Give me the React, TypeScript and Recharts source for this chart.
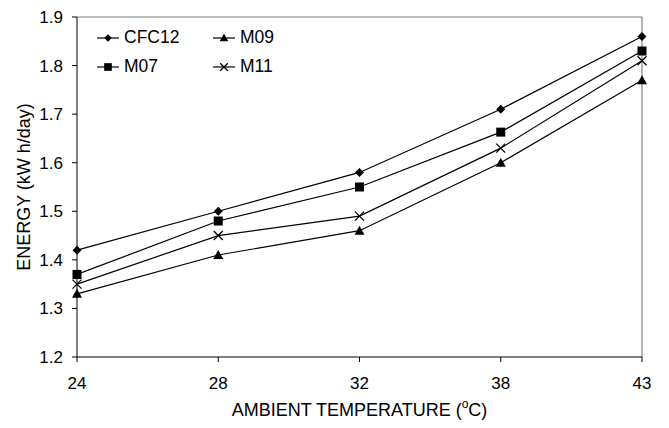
import { LineChart, Line, XAxis, YAxis, ReferenceLine } from "recharts";

// Ambient temperature (°C) categories
const temps = ["24", "28", "32", "38", "43"];

// Energy consumption (kW h/day) per refrigerant
const cfc12 = [1.42, 1.5, 1.58, 1.71, 1.86];
const m07 = [1.37, 1.48, 1.55, 1.663, 1.83];
const m09 = [1.33, 1.41, 1.46, 1.6, 1.77];
const m11 = [1.35, 1.45, 1.49, 1.63, 1.81];

const yTicks = [1.2, 1.3, 1.4, 1.5, 1.6, 1.7, 1.8, 1.9];

const data = temps.map((t, i) => ({
  temp: t,
  CFC12: cfc12[i],
  M07: m07[i],
  M09: m09[i],
  M11: m11[i],
}));

const FONT = '"Liberation Sans", Arial, sans-serif';

type Shape = "diamond" | "square" | "triangle" | "cross";

function Marker({ shape, cx, cy, s = 1 }: { shape: Shape; cx: number; cy: number; s?: number }) {
  if (cx == null || cy == null) return null;
  const r = 4.5 * s;
  switch (shape) {
    case "diamond":
      return (
        <polygon
          points={`${cx},${cy - r} ${cx + r},${cy} ${cx},${cy + r} ${cx - r},${cy}`}
          fill="#000"
        />
      );
    case "square":
      return <rect x={cx - r} y={cy - r} width={2 * r} height={2 * r} fill="#000" />;
    case "triangle":
      return (
        <polygon
          points={`${cx},${cy - r - 0.5} ${cx + r + 0.5},${cy + r - 0.5} ${cx - r - 0.5},${cy + r - 0.5}`}
          fill="#000"
        />
      );
    default:
      return (
        <path
          d={`M${cx - r},${cy - r}L${cx + r},${cy + r}M${cx + r},${cy - r}L${cx - r},${cy + r}`}
          stroke="#000"
          strokeWidth={1.3}
          fill="none"
        />
      );
  }
}

const series: { key: string; shape: Shape }[] = [
  { key: "CFC12", shape: "diamond" },
  { key: "M07", shape: "square" },
  { key: "M09", shape: "triangle" },
  { key: "M11", shape: "cross" },
];

// legend order as in the figure: two columns
const legendOrder: { key: string; shape: Shape }[] = [
  { key: "CFC12", shape: "diamond" },
  { key: "M09", shape: "triangle" },
  { key: "M07", shape: "square" },
  { key: "M11", shape: "cross" },
];

function LegendBox() {
  return (
    <div
      style={{
        position: "absolute",
        top: 27,
        left: 97,
        display: "grid",
        gridTemplateColumns: "116px 100px",
        rowGap: 8,
        fontFamily: FONT,
        fontSize: 17.5,
        color: "#000",
        lineHeight: "21px",
      }}
    >
      {legendOrder.map((s) => (
        <div key={s.key} style={{ display: "flex", alignItems: "center" }}>
          <svg width={22} height={14} style={{ marginRight: 5 }}>
            <line x1={0} y1={7} x2={22} y2={7} stroke="#000" strokeWidth={1.2} />
            <Marker shape={s.shape} cx={11} cy={7} s={0.85} />
          </svg>
          <span>{s.key}</span>
        </div>
      ))}
    </div>
  );
}

function XTitle(props: any) {
  const { viewBox } = props;
  if (!viewBox) return null;
  return (
    <text
      x={viewBox.x + viewBox.width / 2}
      y={viewBox.y + 59}
      textAnchor="middle"
      fontFamily={FONT}
      fontSize={18}
      fill="#000"
    >
      AMBIENT TEMPERATURE (
      <tspan dy={-8} fontSize={12}>
        o
      </tspan>
      <tspan dy={8}>C)</tspan>
    </text>
  );
}

function YTitle(props: any) {
  const { viewBox } = props;
  if (!viewBox) return null;
  const x = 30;
  const y = viewBox.y + viewBox.height / 2;
  return (
    <text
      x={x}
      y={y}
      transform={`rotate(-90 ${x} ${y})`}
      textAnchor="middle"
      fontFamily={FONT}
      fontSize={18}
      fill="#000"
    >
      ENERGY (kW h/day)
    </text>
  );
}

export default function App() {
  return (
    <div style={{ position: "absolute", top: 0, left: 0, width: 669, height: 428, background: "#fff" }}>
      <LineChart
        width={669}
        height={428}
        data={data}
        margin={{ top: 17, right: 27, bottom: 0, left: 0 }}
      >
        <XAxis
          dataKey="temp"
          height={71}
          stroke="#000"
          tickSize={5}
          tickMargin={15}
          tick={{ fill: "#000", fontSize: 17, fontFamily: FONT }}
          label={<XTitle />}
        />
        <YAxis
          width={77}
          domain={[1.2, 1.9]}
          ticks={yTicks}
          tickFormatter={(v: number) => v.toFixed(1)}
          stroke="#000"
          tickSize={5}
          tickMargin={9}
          tick={{ fill: "#000", fontSize: 17, fontFamily: FONT }}
          label={<YTitle />}
        />
        <ReferenceLine y={1.9} stroke="#808080" strokeWidth={1.2} />
        <ReferenceLine x="43" stroke="#808080" strokeWidth={1.2} />
        {series.map((s) => (
          <Line
            key={s.key}
            type="linear"
            dataKey={s.key}
            stroke="#000"
            strokeWidth={1.2}
            isAnimationActive={false}
            dot={(p: any) => <Marker key={`${s.key}-${p.index}`} shape={s.shape} cx={p.cx} cy={p.cy} />}
            activeDot={false}
          />
        ))}
      </LineChart>
      <LegendBox />
    </div>
  );
}
